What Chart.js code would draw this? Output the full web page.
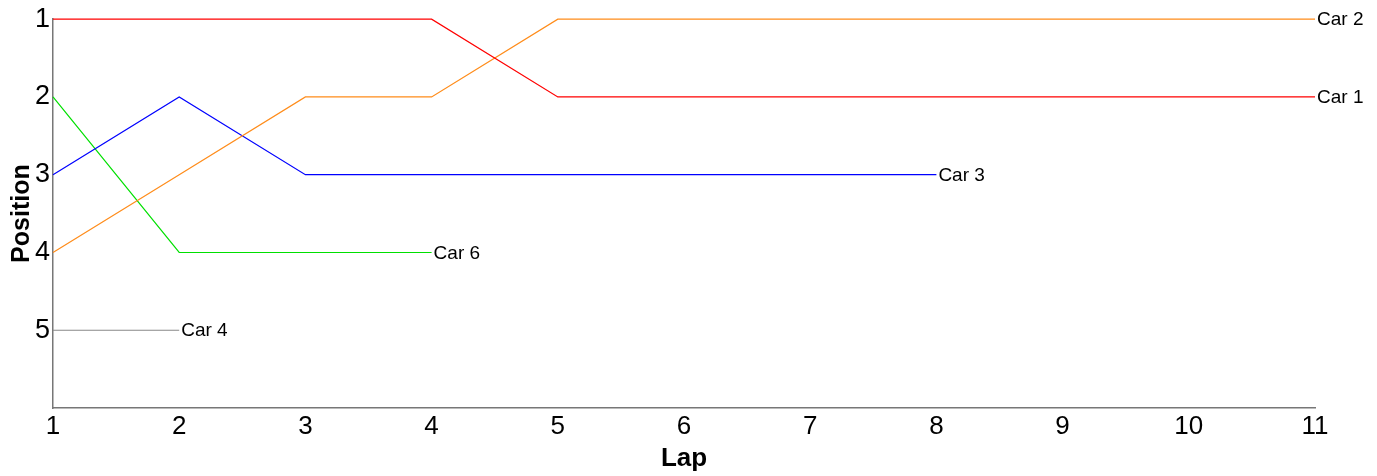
<!DOCTYPE html>
<html>
<head>
<meta charset="utf-8">
<script src="https://cdn.jsdelivr.net/npm/chart.js@4/dist/chart.umd.min.js"></script>
<style>
  html, body { margin: 0; padding: 0; background: #fff; }
  #wrap { width: 1377px; height: 476px; }
</style>
</head>
<body>
<div id="wrap"><canvas id="raceChart"></canvas></div>
<script>
const laps = [1, 2, 3, 4, 5, 6, 7, 8, 9, 10, 11];
const carNames = ['Car 1', 'Car 2', 'Car 3', 'Car 4', 'Car 6'];
const car1 = [1, 1, 1, 1, 2, 2, 2, 2, 2, 2, 2];
const car2 = [4, 3, 2, 2, 1, 1, 1, 1, 1, 1, 1];
const car3 = [3, 2, 3, 3, 3, 3, 3, 3];
const car4 = [5, 5];
const car6 = [2, 4, 4, 4];
const positionTicks = [1, 2, 3, 4, 5];
const carColors = ['#ff0000', '#ff8c1a', '#0000ff', '#888888', '#00e000'];

const series = [car1, car2, car3, car4, car6];
const FONT = '"Liberation Sans", Arial, sans-serif';

// label at the last point of every line
const endLabels = {
    id: 'endLabels',
    afterDatasetsDraw(chart) {
        const ctx = chart.ctx;
        ctx.save();
        ctx.font = '19px ' + FONT;
        ctx.fillStyle = '#000';
        ctx.textBaseline = 'middle';
        ctx.textAlign = 'left';
        chart.data.datasets.forEach((ds, i) => {
            const meta = chart.getDatasetMeta(i);
            const last = meta.data[meta.data.length - 1];
            ctx.fillText(ds.label, last.x + 2, last.y + 1);
        });
        ctx.restore();
    }
};

const ctx = document.getElementById('raceChart').getContext('2d');
const raceChart = new Chart(ctx, {
    type: 'line',
    data: {
        labels: laps,
        datasets: series.map((d, i) => ({
            label: carNames[i],
            data: d,
            borderColor: carColors[i],
            borderWidth: 1.2,
            pointRadius: 0,
            tension: 0,
            fill: false,
            clip: false
        }))
    },
    options: {
        responsive: true,
        maintainAspectRatio: false,
        animation: false,
        layout: { padding: { top: 18, right: 62, bottom: 0, left: 0 } },
        plugins: {
            legend: { display: false },
            tooltip: { enabled: false }
        },
        scales: {
            x: {
                type: 'category',
                offset: false,
                grid: { display: false, drawTicks: false },
                border: { color: '#777', width: 1.5 },
                ticks: {
                    color: '#000',
                    padding: 3,
                    maxRotation: 0,
                    font: { size: 26, family: FONT }
                },
                title: {
                    display: true,
                    text: 'Lap',
                    color: '#000',
                    padding: { top: 0, bottom: 2 },
                    font: { size: 26, weight: 'bold', family: FONT }
                },
                afterFit(scale) { scale.height = 68; }
            },
            y: {
                type: 'linear',
                reverse: true,
                min: 1,
                max: 6,
                grid: { display: false, drawTicks: false },
                border: { color: '#777', width: 1.5 },
                afterBuildTicks(scale) {
                    scale.ticks = positionTicks.map(v => ({ value: v }));
                },
                ticks: {
                    color: '#000',
                    padding: 3,
                    font: { size: 27, family: FONT }
                },
                title: {
                    display: true,
                    text: 'Position',
                    color: '#000',
                    padding: { top: 7, bottom: 0 },
                    font: { size: 25, weight: 'bold', family: FONT }
                },
                afterFit(scale) { scale.width = 53; }
            }
        }
    },
    plugins: [endLabels]
});
</script>
</body>
</html>
